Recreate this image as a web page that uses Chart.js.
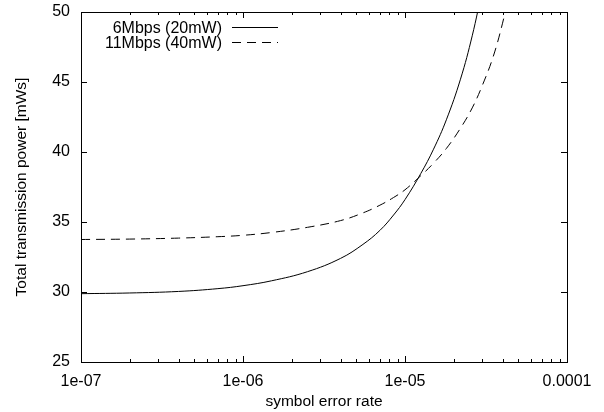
<!DOCTYPE html>
<html>
<head>
<meta charset="utf-8">
<script src="https://cdn.jsdelivr.net/npm/chart.js@4"></script>
<style>
  html, body { margin: 0; padding: 0; background: #fff; }
  #wrap { width: 604px; height: 412px; position: relative; }
</style>
</head>
<body>
<div id="wrap"><canvas id="chart"></canvas></div>
<script>
// data
const errorRates = [1e-7, 2e-7, 4e-7, 7e-7, 1e-6, 1.5e-6, 2.5e-6, 4e-6, 5.5e-6, 7e-6, 8.5e-6,
                    1e-5, 1.25e-5, 1.5e-5, 1.8e-5, 2.2e-5, 2.6e-5, 3e-5, 3.5e-5, 4e-5, 4.5e-5];
const power6Mbps  = [29.88, 29.93, 30.04, 30.24, 30.45, 30.8, 31.45, 32.4, 33.4, 34.4, 35.5,
                     36.6, 38.45, 40.2, 42.3, 45.2, 48.3, 51.6, null, null, null];
const power11Mbps = [33.75, 33.78, 33.85, 33.95, 34.05, 34.25, 34.62, 35.1, 35.65, 36.2, 36.75,
                     37.3, 38.3, 39.2, 40.25, 41.7, 43.15, 44.75, 46.8, 49.2, 51.8];
const seriesLabels = ['6Mbps (20mW)', '11Mbps (40mW)'];
const xTickValues = [1e-7, 1e-6, 1e-5, 1e-4];
const xTickLabels = ['1e-07', '1e-06', '1e-05', '0.0001'];
const yTickValues = [25, 30, 35, 40, 45, 50];

const FONT = '"Liberation Sans", Arial, Helvetica, sans-serif';

function toPoints(xs, ys) {
  return xs.map((x, i) => ({ x: x, y: ys[i] }));
}

// gnuplot-like frame: border, inward ticks on all sides, legend at top-left
const framePlugin = {
  id: 'frame',
  afterDraw(chart) {
    const ctx = chart.ctx;
    const a = chart.chartArea;
    const xs = chart.scales.x;
    const ys = chart.scales.y;
    ctx.save();
    ctx.strokeStyle = '#000';
    ctx.lineWidth = 1;
    ctx.setLineDash([]);
    ctx.beginPath();
    // x ticks, major + minor
    for (let e = -7; e <= -4; e++) {
      for (let m = 1; m <= 9; m++) {
        const v = m * Math.pow(10, e);
        if (v > 1.0001e-4) break;
        const px = Math.round(xs.getPixelForValue(v)) + 0.5;
        const len = m === 1 ? 6 : 3;
        ctx.moveTo(px, a.bottom); ctx.lineTo(px, a.bottom - len);
        ctx.moveTo(px, a.top); ctx.lineTo(px, a.top + len);
      }
    }
    // y ticks
    yTickValues.forEach(v => {
      const py = Math.round(ys.getPixelForValue(v)) + 0.5;
      ctx.moveTo(a.left, py); ctx.lineTo(a.left + 6, py);
      ctx.moveTo(a.right, py); ctx.lineTo(a.right - 6, py);
    });
    ctx.stroke();
    ctx.strokeRect(Math.round(a.left) + 0.5, Math.round(a.top) + 0.5,
                   Math.round(a.right - a.left), Math.round(a.bottom - a.top));

    // legend
    ctx.font = '16px ' + FONT;
    ctx.fillStyle = '#000';
    ctx.textAlign = 'right';
    ctx.textBaseline = 'alphabetic';
    chart.data.datasets.forEach((ds, i) => {
      const y = 27 + i * 15;
      ctx.fillText(ds.label, 222, y + 5.5);
      ctx.beginPath();
      ctx.setLineDash(ds.borderDash || []);
      ctx.moveTo(232, y + 0.5);
      ctx.lineTo(278, y + 0.5);
      ctx.stroke();
    });
    ctx.restore();
  }
};

const ctx = document.getElementById('chart').getContext('2d');
new Chart(ctx, {
  type: 'line',
  data: {
    datasets: [
      {
        label: seriesLabels[0],
        data: toPoints(errorRates, power6Mbps),
        borderColor: '#000',
        borderWidth: 1,
        pointRadius: 0,
        tension: 0.4,
        spanGaps: false
      },
      {
        label: seriesLabels[1],
        data: toPoints(errorRates, power11Mbps),
        borderColor: '#000',
        borderWidth: 1,
        borderDash: [9, 6],
        pointRadius: 0,
        tension: 0.4
      }
    ]
  },
  options: {
    responsive: true,
    maintainAspectRatio: false,
    animation: false,
    layout: { padding: { left: 0, right: 37, top: 12, bottom: 0 } },
    plugins: {
      legend: { display: false },
      tooltip: { enabled: false }
    },
    scales: {
      x: {
        type: 'logarithmic',
        min: 1e-7,
        max: 1e-4,
        grid: { display: false, drawTicks: false },
        border: { display: false },
        afterBuildTicks(scale) {
          scale.ticks = xTickValues.map(v => ({ value: v }));
        },
        afterFit(scale) {
          scale.height = 50;
          scale.paddingLeft = 0;
          scale.paddingRight = 0;
        },
        ticks: {
          autoSkip: false,
          maxRotation: 0,
          padding: 10,
          color: '#000',
          font: { family: FONT, size: 16 },
          callback: (v) => {
            const i = xTickValues.findIndex(t => Math.abs(t - v) / t < 1e-6);
            return i >= 0 ? xTickLabels[i] : '';
          }
        },
        title: {
          display: true,
          text: 'symbol error rate',
          color: '#000',
          font: { family: FONT, size: 15.5 },
          padding: { top: 0, bottom: 1 }
        }
      },
      y: {
        min: 25,
        max: 50,
        grid: { display: false, drawTicks: false },
        border: { display: false },
        afterBuildTicks(scale) {
          scale.ticks = yTickValues.map(v => ({ value: v }));
        },
        afterFit(scale) {
          scale.width = 81;
          scale.paddingTop = 0;
          scale.paddingBottom = 0;
        },
        ticks: {
          padding: 11,
          color: '#000',
          font: { family: FONT, size: 16 }
        },
        title: {
          display: true,
          text: 'Total transmission power [mWs]',
          color: '#000',
          font: { family: FONT, size: 15.5 },
          padding: { top: 12, bottom: 0 }
        }
      }
    }
  },
  plugins: [framePlugin]
});
</script>
</body>
</html>
